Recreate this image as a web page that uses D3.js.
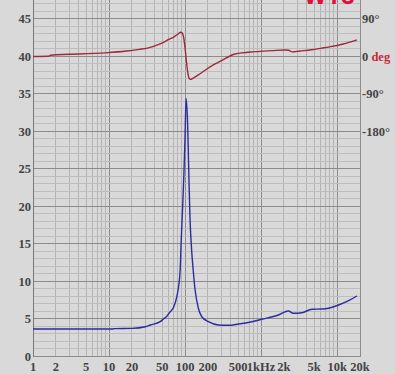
<!DOCTYPE html>
<html>
<head>
<meta charset="utf-8">
<script src="https://d3js.org/d3.v7.min.js"></script>
<style>
  body { margin: 0; background: #d9d9d9; }
  svg { display: block; }
  .lbl { font-family: "Liberation Serif", serif; font-weight: bold; font-size: 12.5px; fill: #444; }
</style>
</head>
<body>
<svg id="chart" width="395" height="374"></svg>
<script>
// impedance (ohm) vs frequency (Hz)
const impFreq = [1, 5, 11, 12, 20, 30, 35, 47, 52, 58, 63, 70, 78, 86, 89, 93, 97, 100, 103, 108, 112, 116, 122, 128, 135, 149, 166, 203, 273, 370, 505, 756, 1020, 1690, 2290, 2640, 3440, 4660, 6290, 7730, 10460, 14160, 18200];
const impVals = [3.67, 3.67, 3.67, 3.72, 3.75, 3.97, 4.2, 4.64, 5.0, 5.4, 5.9, 6.5, 8.0, 11.3, 15.5, 20, 24.9, 29.3, 34.4, 31.1, 24.5, 18.6, 14.2, 11.5, 9.0, 6.5, 5.3, 4.64, 4.2, 4.16, 4.33, 4.64, 4.96, 5.53, 6.07, 5.76, 5.84, 6.3, 6.33, 6.43, 6.87, 7.44, 8.07];

// phase (deg) vs frequency (Hz)
const phFreq = [1, 1.6, 1.7, 9, 17, 25, 32, 47, 63, 70, 81, 87, 92, 96, 100, 104, 108, 113, 118, 128, 150, 174, 235, 288, 456, 834, 1400, 2070, 2300, 2560, 3240, 4600, 6300, 7900, 12000, 18200];
const phVals = [0, 0.5, 3, 8.5, 13, 17, 20, 30, 42, 46, 54, 58, 56, 45, 20, -10, -35, -52, -55, -52, -44, -36, -20, -12, 6, 11.5, 14, 15.6, 15, 11, 13, 16, 20, 23, 30, 40];

const xTicks = [1, 2, 5, 10, 20, 50, 100, 200, 500, 1000, 2000, 5000, 10000, 20000];
const xTickLabels = ["1", "2", "5", "10", "20", "50", "100", "200", "500", "1kHz", "2k", "5k", "10k", "20k"];
const yTicks = [0, 5, 10, 15, 20, 25, 30, 35, 40, 45];
const phTicks = [90, 0, -90, -180];
const phTickLabels = ["90°", "0", "-90°", "-180°"];

const svg = d3.select("#chart");
const plotL = 33, plotR = 360, plotT = 0, plotB = 356.5;

const x = d3.scaleLog().domain([1, 20000]).range([plotL, plotR]);
const y = d3.scaleLinear().domain([0, 47.53]).range([plotB, plotT]);
// 0 deg sits on the 40 ohm line, 90 deg per 5 ohm
const yPh = d3.scaleLinear().domain([-720, 135.5]).range([plotB, plotT]);

// grid
const grid = svg.append("g");
const minorX = [];
for (let dec = 1; dec < 20000; dec *= 10) {
  for (let m = 1; m < 10; m++) {
    const f = dec * m;
    if (f <= 20000) minorX.push(f);
  }
}
grid.selectAll("line.vx").data(minorX).join("line")
  .attr("x1", d => x(d)).attr("x2", d => x(d))
  .attr("y1", plotT).attr("y2", plotB)
  .attr("stroke", d => (Math.abs(Math.log10(d) % 1) < 1e-9) ? "#8c8c8c" : "#b4b4b4")
  .attr("stroke-width", 1)
  .attr("shape-rendering", "crispEdges");

const minorY = d3.range(0, 48);
grid.selectAll("line.hy").data(minorY).join("line")
  .attr("x1", plotL).attr("x2", plotR)
  .attr("y1", d => y(d)).attr("y2", d => y(d))
  .attr("stroke", d => d % 5 === 0 ? "#8c8c8c" : "#bdbdbd")
  .attr("stroke-width", 1)
  .attr("shape-rendering", "crispEdges");

// frame
grid.append("line").attr("x1", plotL).attr("x2", plotL).attr("y1", plotT).attr("y2", plotB)
  .attr("stroke", "#7a7a7a").attr("shape-rendering", "crispEdges");
grid.append("line").attr("x1", plotR).attr("x2", plotR).attr("y1", plotT).attr("y2", plotB)
  .attr("stroke", "#8c8c8c").attr("shape-rendering", "crispEdges");

// curves
const impLine = d3.line().x(d => x(d[0])).y(d => y(d[1])).curve(d3.curveMonotoneX);
const phLine = d3.line().x(d => x(d[0])).y(d => yPh(d[1])).curve(d3.curveMonotoneX);

svg.append("path")
  .datum(phFreq.map((f, i) => [f, phVals[i]]))
  .attr("fill", "none").attr("stroke", "#a0283c").attr("stroke-width", 1.4)
  .attr("d", phLine);

svg.append("path")
  .datum(impFreq.map((f, i) => [f, impVals[i]]))
  .attr("fill", "none").attr("stroke", "#2c2ca0").attr("stroke-width", 1.4)
  .attr("d", impLine);

// left axis labels
svg.selectAll("text.yl").data(yTicks).join("text")
  .attr("class", "lbl")
  .attr("x", 31).attr("y", d => y(d)).attr("dy", "0.35em")
  .attr("text-anchor", "end")
  .text(d => d);

// bottom axis labels
svg.selectAll("text.xl").data(xTicks).join("text")
  .attr("class", "lbl")
  .attr("x", d => x(d)).attr("y", 371)
  .attr("text-anchor", "middle")
  .text((d, i) => xTickLabels[i]);

// right phase labels
const ph = svg.selectAll("text.pl").data(phTicks).join("text")
  .attr("class", "lbl")
  .attr("x", 362).attr("y", d => yPh(d)).attr("dy", "0.35em")
  .text((d, i) => phTickLabels[i]);
ph.filter(d => d === 0).append("tspan")
  .attr("fill", "#c8283c").text(" deg");

// clipped title
svg.append("text")
  .attr("x", 304).attr("y", 3.5)
  .attr("font-family", "Liberation Sans, Arial, sans-serif")
  .attr("font-weight", "bold").attr("font-size", 24)
  .attr("fill", "#e0103c")
  .text("WT3");
</script>
</body>
</html>
